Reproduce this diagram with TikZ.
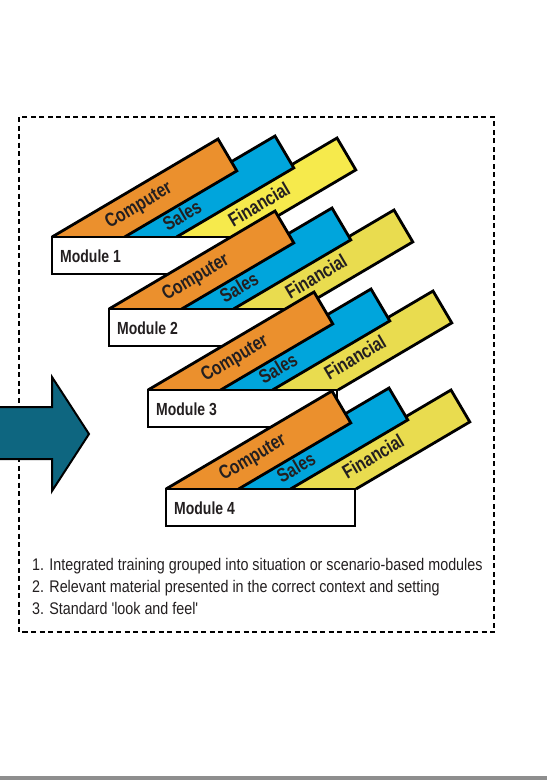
\documentclass[tikz,border=0pt]{standalone}
\usepackage{fontspec}
\setmainfont{Liberation Sans}
\newfontfamily\condfont[FakeStretch=0.8]{Liberation Sans}
\newfontfamily\listfont[FakeStretch=0.85]{Liberation Sans}
\definecolor{borange}{HTML}{EB902D}
\definecolor{bblue}{HTML}{00A5DC}
\definecolor{byellowA}{HTML}{F6EA4C}
\definecolor{byellowB}{HTML}{E9DC4F}
\definecolor{arrowteal}{HTML}{0E6680}
\definecolor{txtcol}{HTML}{231F20}
\definecolor{bargray}{HTML}{8E8E8E}
\tikzset{
  band/.style={draw=black, line width=2.8pt, line join=miter},
  bandtxt/.style={font=\condfont\bfseries\fontsize{19.5}{21}\selectfont, text=txtcol, rotate=30.5, inner sep=0pt},
  modbox/.style={draw=black, fill=white, line width=2.8pt},
  modtxt/.style={font=\condfont\bfseries\fontsize{17.5}{19}\selectfont, text=txtcol, inner sep=0pt},
  frame/.style={draw=black, line width=2.2pt, dash pattern=on 5pt off 3.5pt},
  bigarrow/.style={draw=black, fill=arrowteal, line width=2pt, line join=miter},
  listtxt/.style={font=\listfont\fontsize{16.85}{22}\selectfont, text=txtcol, inner sep=0pt, anchor=base west},
}
\newcommand\drawmodule[6]{% x, y, yellow, label, name, box width
  \begin{scope}[shift={(#1,#2)}]
    \filldraw[band, fill=#3] (117,0) -- (285,-99) -- (303.8,-67.1) -- (190,0);
    \filldraw[band, fill=bblue] (51.5,0) -- (223,-101) -- (241.8,-69.1) -- (124.5,0);
    \filldraw[band, fill=borange] (0,0) -- (166,-98) -- (184.8,-66.1) -- (72.6,0);
    \node[bandtxt] (#5c) at (87,-31) {Computer};
    \node[bandtxt] (#5s) at (130,-22) {Sales};
    \node[bandtxt] (#5f) at (207,-33) {Financial};
    \draw[modbox] (0,0) rectangle (#6,37);
    \node[modtxt, anchor=west] (#5) at (8,19) {#4};
  \end{scope}}
\begin{document}
\begin{tikzpicture}[x=1pt, y=-1pt]
  \useasboundingbox (0,0) rectangle (547,780);
  \fill[white] (0,0) rectangle (547,780);
  \draw[frame] (19,117) rectangle (494,632);
  \draw[bigarrow] (-5,407) -- (52,407) -- (52,377) -- (89,434) -- (52,491) -- (52,459) -- (-5,459) -- cycle;
  \drawmodule{52}{237}{byellowA}{Module 1}{m1}{185}
  \drawmodule{109}{309}{byellowB}{Module 2}{m2}{185}
  \drawmodule{148}{390}{byellowB}{Module 3}{m3}{189}
  \drawmodule{166}{489}{byellowB}{Module 4}{m4}{189}
  \node[listtxt] (l1) at (32,570) {1. Integrated training grouped into situation or scenario-based modules};
  \node[listtxt] (l2) at (32,592) {2. Relevant material presented in the correct context and setting};
  \node[listtxt] (l3) at (32,614) {3. Standard 'look and feel'};
  \fill[bargray] (0,776) rectangle (547,781);
\end{tikzpicture}
\end{document}
